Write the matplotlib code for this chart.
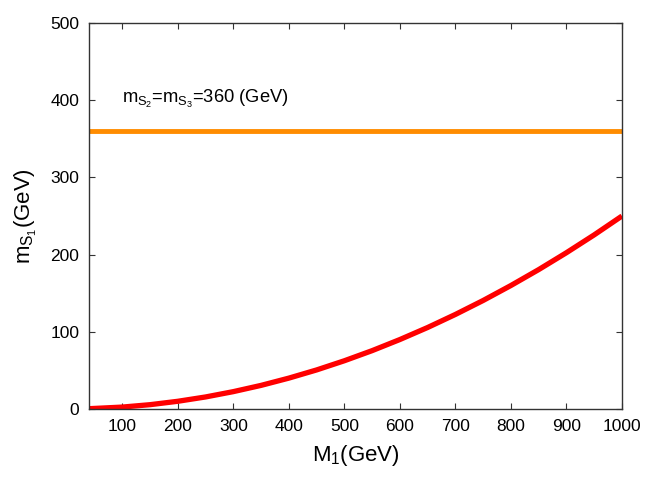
import matplotlib
matplotlib.use("Agg")
import matplotlib.pyplot as plt

plt.rcParams['font.family'] = ['Liberation Sans', 'DejaVu Sans']
plt.rcParams['mathtext.fontset'] = 'custom'
plt.rcParams['mathtext.rm'] = 'Liberation Sans'
plt.rcParams['mathtext.it'] = 'Liberation Sans'

# valeurs
M1 = [40, 100, 150, 200, 250, 300, 350, 400, 450, 500,
      550, 600, 650, 700, 750, 800, 850, 900, 950, 1000]
mS1 = [0.4, 2.5, 5.6, 10, 15.6, 22.5, 30.6, 40, 50.6, 62.5,
       75.6, 90, 105.6, 122.5, 140.6, 160, 180.6, 202.5, 225.6, 250]
mS2_x = [40, 1000]
mS2_y = [360, 360]

xticks = [100, 200, 300, 400, 500, 600, 700, 800, 900, 1000]
yticks = [0, 100, 200, 300, 400, 500]

fig = plt.figure(figsize=(6.54, 4.91), dpi=100)
ax = fig.add_axes([0.136, 0.167, 0.815, 0.786])

ax.plot(mS2_x, mS2_y, color='#ff8c00', lw=3.5, solid_capstyle='butt')
ax.plot(M1, mS1, color='#ff0000', lw=3.8, solid_capstyle='butt')

ax.text(100, 396, r'$m_{S_2}$=$m_{S_3}$=360 (GeV)', fontsize=13.2)

ax.set_xlim(40, 1000)
ax.set_ylim(0, 500)
ax.set_xticks(xticks)
ax.set_yticks(yticks)
ax.tick_params(direction='in', top=True, right=True, length=4, width=0.8,
               labelsize=12.5, color='#333333', pad=7)
for s in ax.spines.values():
    s.set_linewidth(1.0)
    s.set_color('#333333')

ax.set_xlabel(r'$M_1$(GeV)', fontsize=16, labelpad=7)
ax.set_ylabel(r'$m_{S_1}$(GeV)', fontsize=16, labelpad=8)

fig.savefig('out.png', dpi=100)
